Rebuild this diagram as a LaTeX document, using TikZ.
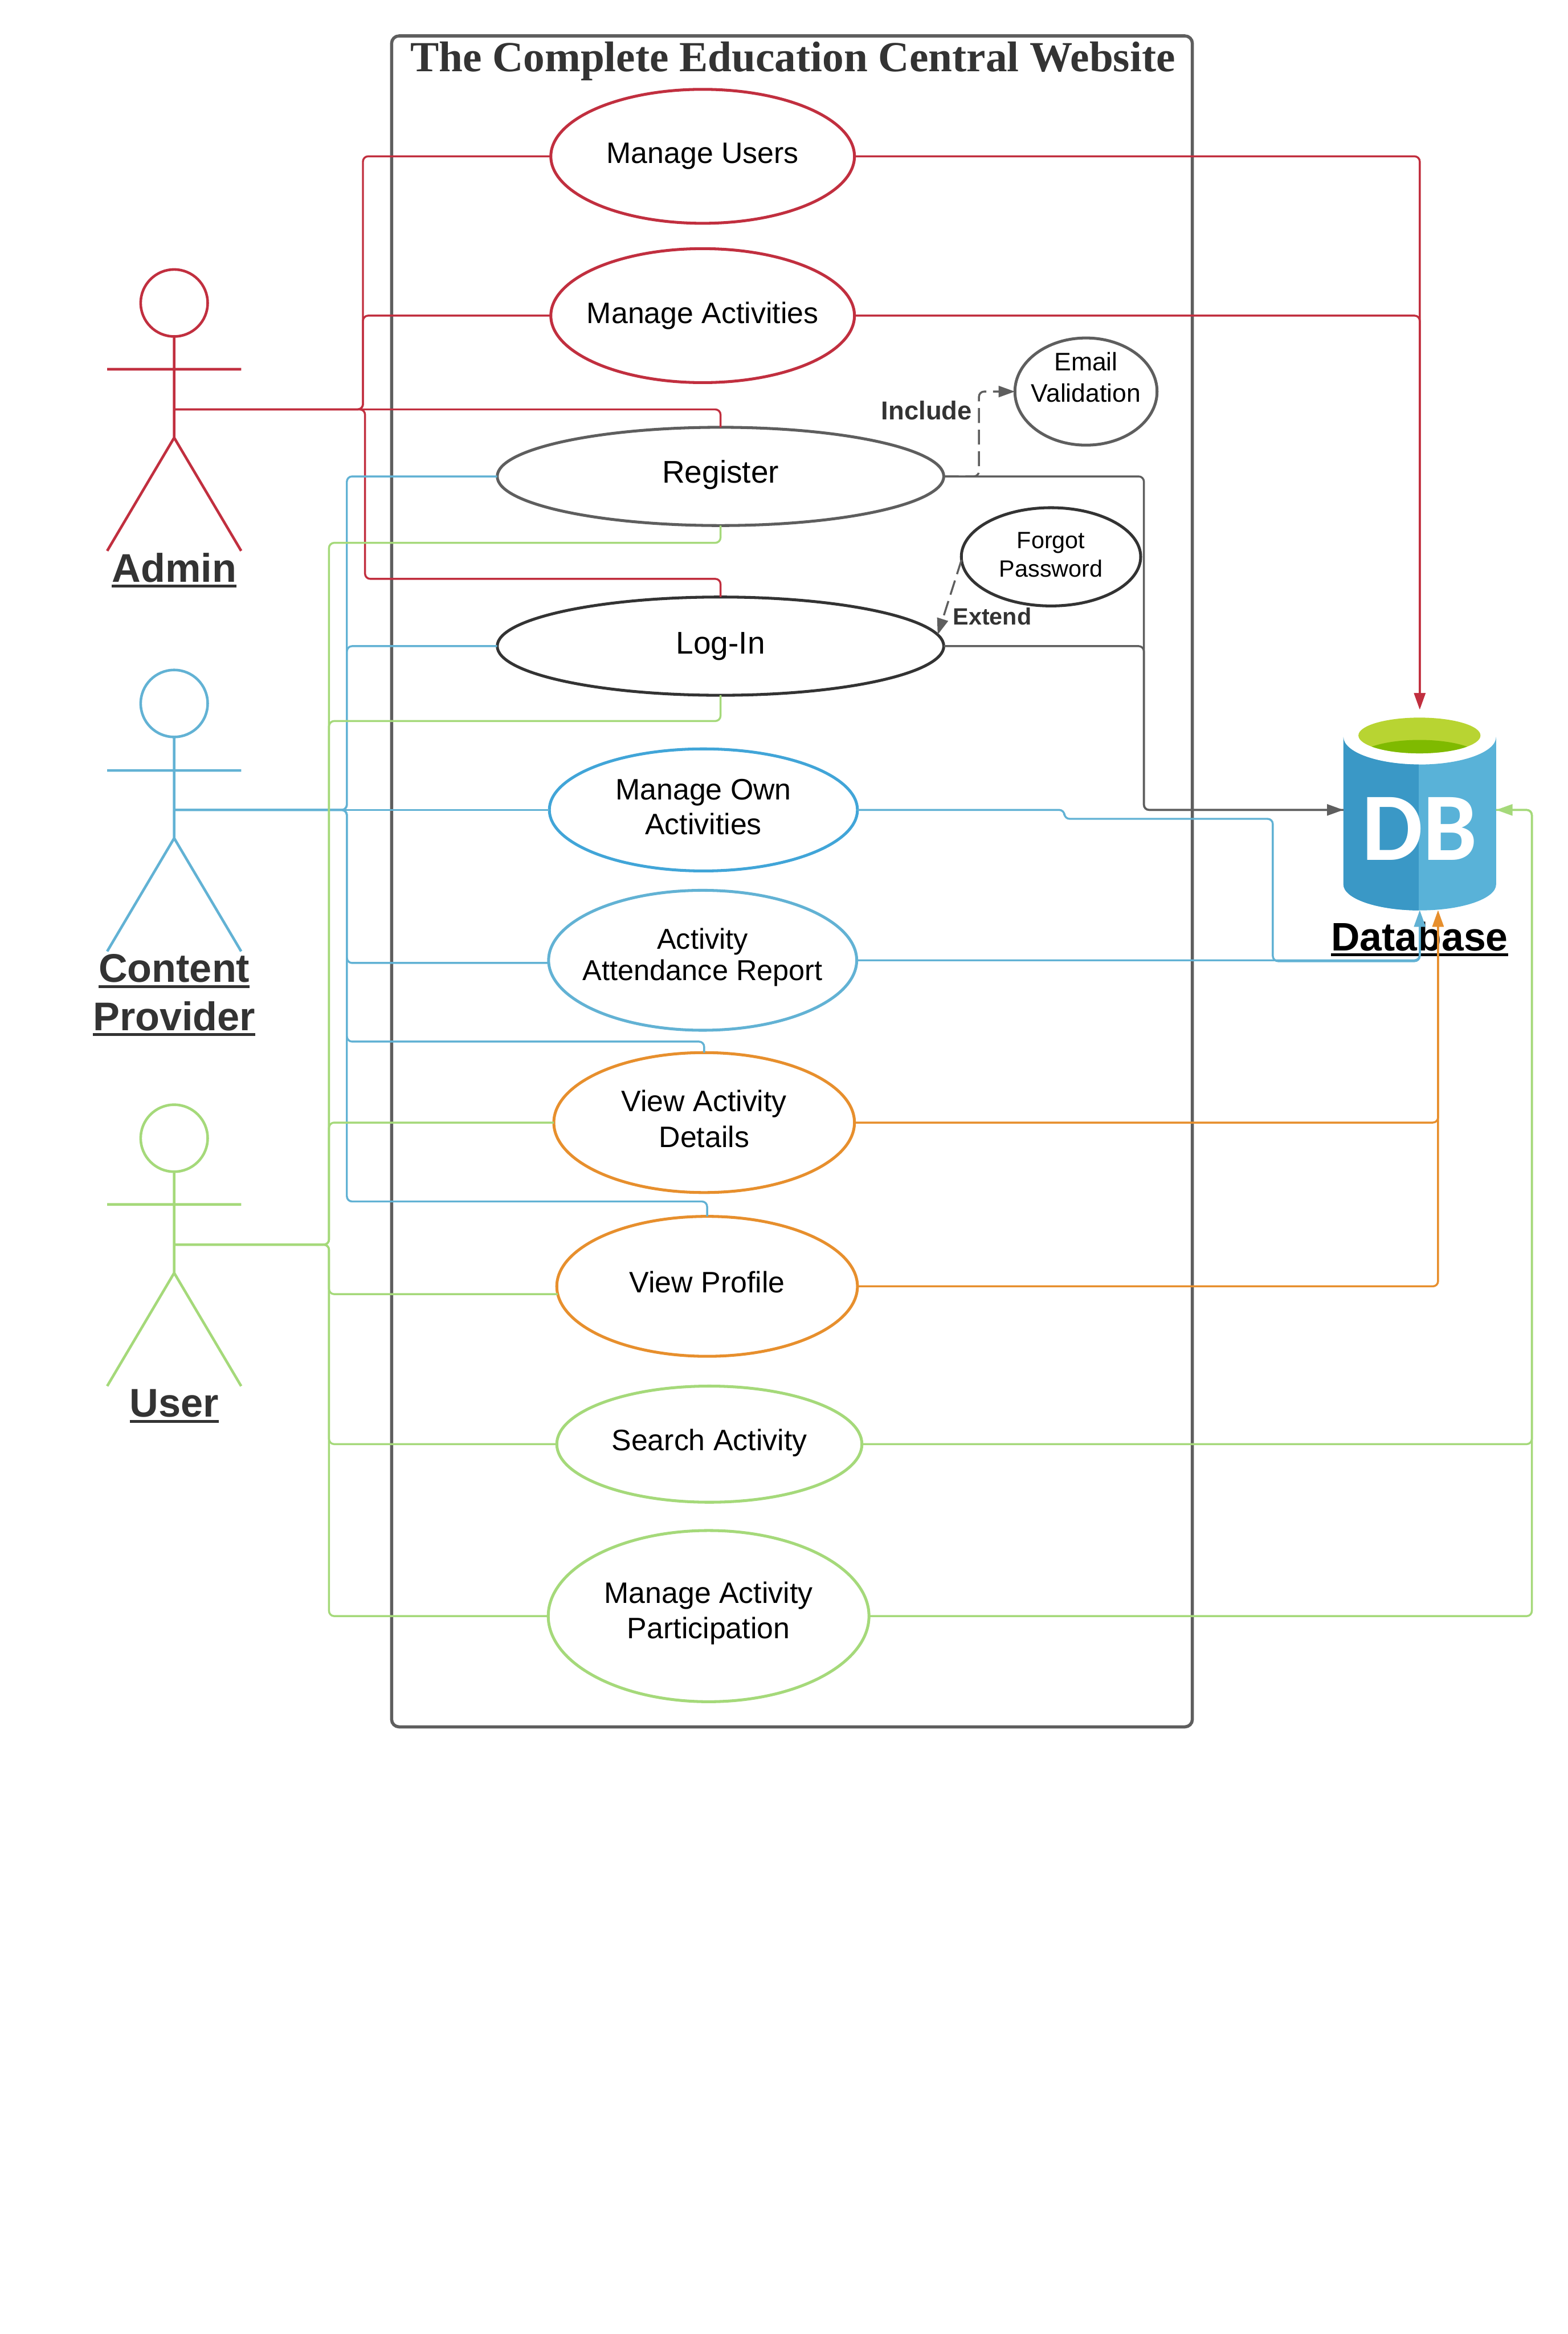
\documentclass[tikz,border=0pt]{standalone}
\usepackage{fontspec}
\usepackage{tikz}
\usetikzlibrary{shapes.geometric, arrows.meta}
\setmainfont{Liberation Sans}
\newfontfamily\titlefont{Liberation Serif}
\newfontfamily\dbfont{Carlito}
\newcommand{\ultext}[1]{\setbox0=\hbox{#1}\hbox{\copy0\kern-\wd0\vrule width\wd0 height -1.1pt depth 2.2pt}}
\definecolor{adminred}{HTML}{C12F3F}
\definecolor{cpblue}{HTML}{62B2D4}
\definecolor{ownblue}{HTML}{41A5D8}
\definecolor{userorange}{HTML}{E78F2D}
\definecolor{usergreen}{HTML}{A5D97A}
\definecolor{linegrey}{HTML}{5E5E5E}
\definecolor{darkline}{HTML}{333333}
\definecolor{dblight}{HTML}{59B2D8}
\definecolor{dbdark}{HTML}{3A98C6}
\definecolor{dbgreen}{HTML}{B8D432}
\definecolor{dbgreendark}{HTML}{7FBA00}
\tikzset{
  usecase/.style={ellipse, draw, line width=1.1pt, inner sep=0pt, outer sep=0pt},
  casetext/.style={align=center, text=black, inner sep=0pt, font=\fontsize{11.3}{13.4}\selectfont},
  head/.style={circle, draw, line width=1pt, minimum size=.9cm, inner sep=0pt, outer sep=0pt},
  stick/.style={line width=1pt},
  wire/.style={line width=.75pt, rounded corners=.07cm},
  tip/.style={-{Triangle[length=.22cm,width=.15cm]}},
  relation/.style={wire, linegrey, dash pattern=on .2cm off .09cm},
  actorlabel/.style={align=center, text=darkline, inner sep=0pt,
    font=\fontsize{15.3}{18.4}\selectfont\bfseries},
  relationlabel/.style={text=darkline, inner sep=0pt, font=\bfseries}
}
\begin{document}
\begin{tikzpicture}[x=.02cm, y=-.02cm]
\useasboundingbox (0,0) rectangle (1053,1567.7);

% System frame
\node[draw=linegrey, line width=1.2pt, rounded corners=.1cm, minimum width=10.76cm, minimum height=22.72cm, outer sep=0pt] (website) at (532,592) {};
\node[text=darkline, inner sep=0pt, font=\titlefont\fontsize{16.4}{18}\selectfont\bfseries] (title) at (532.5,41) {The Complete Education Central Website};

% Admin
\node[head, draw=adminred] (admin) at (117,203.5) {};
\coordinate (adminhub) at (117,275);
\draw[stick, adminred] (admin.south) -- (117,294) -- (72,370) (117,294) -- (162,370) (72,248) -- (162,248);
\node[actorlabel] (adminlabel) at (117,383) {\ultext{Admin}};

% Content provider
\node[head, draw=cpblue] (provider) at (117,472.5) {};
\coordinate (providerhub) at (117,544);
\draw[stick, cpblue] (provider.south) -- (117,563) -- (72,639) (117,563) -- (162,639) (72,517.5) -- (162,517.5);
\node[actorlabel] (providerlabel) at (117,668.5) {\ultext{Content}\\\ultext{Provider}};

% User
\node[head, draw=usergreen] (user) at (117,764.5) {};
\coordinate (userhub) at (117,836);
\draw[stick, usergreen] (user.south) -- (117,855) -- (72,931) (117,855) -- (162,931) (72,809) -- (162,809);
\node[actorlabel] (userlabel) at (117,944.5) {\ultext{User}};

% Use cases
\node[usecase, draw=adminred, minimum width=4.08cm, minimum height=1.8cm, label={[casetext]center:Manage Users}] (users) at (472,105) {};
\node[usecase, draw=adminred, minimum width=4.08cm, minimum height=1.8cm, label={[casetext]center:Manage Activities}] (activities) at (472,212) {};
\node[usecase, draw=linegrey, minimum width=6cm, minimum height=1.32cm, label={[casetext, font=\fontsize{12}{14}\selectfont, yshift=.02cm]center:Register}] (register) at (484,320) {};
\node[usecase, draw=darkline, minimum width=6cm, minimum height=1.32cm, label={[casetext, font=\fontsize{12}{14}\selectfont]center:Log-In}] (login) at (484,434) {};
\node[usecase, draw=ownblue, minimum width=4.14cm, minimum height=1.64cm, label={[casetext, yshift=.04cm]center:Manage Own\\Activities}] (own) at (472.5,544) {};
\node[usecase, draw=cpblue, minimum width=4.14cm, minimum height=1.88cm, label={[casetext, font=\fontsize{11}{12}\selectfont, yshift=.04cm]center:Activity\\Attendance Report}] (attendance) at (472,645) {};
\node[usecase, draw=userorange, minimum width=4.04cm, minimum height=1.88cm, label={[casetext, font=\fontsize{11.3}{13.6}\selectfont, yshift=.05cm]center:View Activity\\Details}] (details) at (473,754) {};
\node[usecase, draw=userorange, minimum width=4.04cm, minimum height=1.88cm, label={[casetext, yshift=.06cm]center:View Profile}] (profile) at (475,864) {};
\node[usecase, draw=usergreen, minimum width=4.1cm, minimum height=1.56cm, label={[casetext, yshift=.02cm]center:Search Activity}] (search) at (476.5,970) {};
\node[usecase, draw=usergreen, minimum width=4.31cm, minimum height=2.3cm, label={[casetext, font=\fontsize{11.3}{13.6}\selectfont, yshift=.04cm]center:Manage Activity\\Participation}] (participation) at (476,1085.5) {};
\node[usecase, draw=linegrey, minimum width=1.91cm, minimum height=1.44cm, label={[casetext, font=\fontsize{9.7}{12}\selectfont, yshift=.19cm]center:Email\\Validation}] (email) at (729.5,263) {};
\node[usecase, draw=darkline, minimum width=2.41cm, minimum height=1.32cm, label={[casetext, font=\fontsize{9}{10.8}\selectfont, yshift=.03cm]center:Forgot\\Password}] (forgot) at (706,374) {};

% Database
\fill[dblight] (902.4,495) arc[start angle=180, end angle=360, x radius=1.026cm, y radius=.37cm] -- (1005,594) arc[start angle=360, end angle=180, x radius=1.026cm, y radius=.35cm] -- cycle;
\begin{scope}
  \clip (902.4,470) rectangle (953,620);
  \fill[dbdark] (902.4,495) arc[start angle=180, end angle=360, x radius=1.026cm, y radius=.37cm] -- (1005,594) arc[start angle=360, end angle=180, x radius=1.026cm, y radius=.35cm] -- cycle;
\end{scope}
\fill[dbgreen] (953.5,494) ellipse [x radius=41, y radius=12];
\begin{scope}
  \clip (953.5,494) ellipse [x radius=41, y radius=12];
  \fill[dbgreendark] (953.5,509) ellipse [x radius=41, y radius=12];
\end{scope}
\node[text=white, inner sep=0pt, anchor=base, font=\dbfont\fontsize{37}{40}\selectfont\bfseries] (dbtext) at (953.5,577.6) {DB};
\node[minimum width=2.052cm, minimum height=2.7cm, inner sep=0pt, outer sep=0pt] (db) at (953.7,544) {};
\node[text=black, inner sep=0pt, anchor=base, font=\fontsize{15.2}{18}\selectfont\bfseries] (dblabel) at (953.6,638.5) {\ultext{Database}};

% Admin connectors
\draw[wire, adminred] (adminhub) -- (243.8,275) |- (users.west);
\draw[wire, adminred] (adminhub) -- (243.8,275) |- (activities.west);
\draw[wire, adminred] (adminhub) -| (register.north);
\draw[wire, adminred] (adminhub) -- (245.2,275) -- (245.2,388.8) -| (login.north);
\draw[wire, tip, adminred] (users.east) -| (db.north);
\draw[wire, tip, adminred] (activities.east) -| (db.north);

% Content provider connectors
\draw[wire, cpblue] (providerhub) -- (233,544) |- (register.west);
\draw[wire, cpblue] (providerhub) -- (233,544) |- (login.west);
\draw[wire, cpblue] (providerhub) -- (own.west);
\draw[wire, cpblue] (providerhub) -- (233,544) |- (attendance.181);
\draw[wire, cpblue] (providerhub) -- (233,544) -- (233,699.6) -| (details.north);
\draw[wire, cpblue] (providerhub) -- (233,544) -- (233,807) -| (profile.north);
\draw[wire, tip, cpblue] (own.east) -- (715,544) -- (715,550) -- (855,550) -- (855,645.6) -| (db.south);
\draw[wire, tip, cpblue] (attendance.east) -| (db.south);

% User connectors
\draw[wire, usergreen] (userhub) -- (221,836) -- (221,364.6) -| (register.south);
\draw[wire, usergreen] (userhub) -- (221,836) -- (221,484.3) -| (login.south);
\draw[wire, usergreen] (userhub) -- (221,836) |- (details.west);
\draw[wire, usergreen] (userhub) -- (221,836) |- (profile.183);
\draw[wire, usergreen] (userhub) -- (221,836) |- (search.west);
\draw[wire, usergreen] (userhub) -- (221,836) |- (participation.west);
\draw[wire, tip, userorange] (details.east) -| ([xshift=.246cm]db.south);
\draw[wire, tip, userorange] (profile.east) -| ([xshift=.246cm]db.south);
\draw[wire, usergreen] (search.east) -- (1029,970) |- (db.east);
\draw[wire, tip, usergreen] (participation.east) -- (1029,1085.5) |- (db.east);

% Register and Log-In connectors
\draw[wire, linegrey] (register.east) -- (768.4,320) |- (db.west);
\draw[wire, tip, linegrey] (login.east) -- (768.4,434) |- (db.west);
\draw[relation, tip] (register.east) -- (657.6,320) |- (email.west);
\draw[relation, tip] (forgot.182) -- (login.3);

% Labels
\node[relationlabel, font=\fontsize{9.9}{12}\selectfont\bfseries] (include) at (622.5,275.5) {Include};
\node[relationlabel, font=\fontsize{9}{11}\selectfont\bfseries] (extend) at (666.5,414) {Extend};
\end{tikzpicture}
\end{document}
